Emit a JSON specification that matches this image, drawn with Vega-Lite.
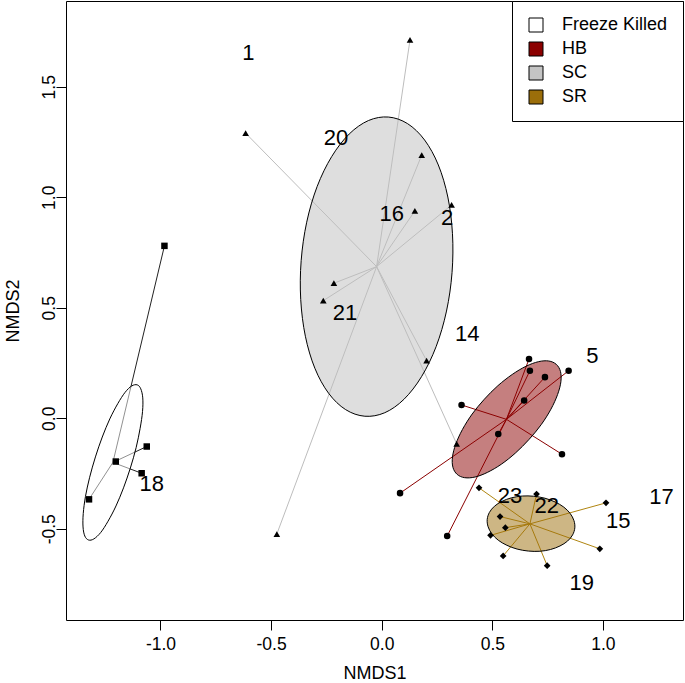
{
  "$schema": "https://vega.github.io/schema/vega-lite/v6.json",
  "width": 617,
  "height": 619,
  "autosize": {"type": "none"},
  "padding": {"left": 66, "top": 1, "right": 2, "bottom": 63},
  "background": "white",
  "config": {
    "view": {"stroke": "black", "strokeWidth": 1},
    "font": "Liberation Sans",
    "axis": {
      "labelFont": "Liberation Sans", "titleFont": "Liberation Sans",
      "labelFontSize": 17.5, "titleFontSize": 18, "titleFontWeight": "normal",
      "labelColor": "black", "titleColor": "black", "tickColor": "black",
      "domain": false, "grid": false, "labelFlush": false, "labelOverlap": false
    }
  },
  "datasets": {
    "pts": [
      {"g": "Freeze Killed", "x": -0.982, "y": 0.780},
      {"g": "Freeze Killed", "x": -1.062, "y": -0.128},
      {"g": "Freeze Killed", "x": -1.202, "y": -0.196},
      {"g": "Freeze Killed", "x": -1.085, "y": -0.249},
      {"g": "Freeze Killed", "x": -1.323, "y": -0.367},
      {"g": "SC", "x": -0.615, "y": 1.290},
      {"g": "SC", "x": -0.216, "y": 0.611},
      {"g": "SC", "x": -0.264, "y": 0.532},
      {"g": "SC", "x": 0.128, "y": 1.712},
      {"g": "SC", "x": 0.181, "y": 1.191},
      {"g": "SC", "x": 0.150, "y": 0.938},
      {"g": "SC", "x": 0.316, "y": 0.965},
      {"g": "SC", "x": -0.474, "y": -0.524},
      {"g": "SC", "x": 0.203, "y": 0.261},
      {"g": "SC", "x": 0.339, "y": -0.116},
      {"g": "HB", "x": 0.666, "y": 0.268},
      {"g": "HB", "x": 0.670, "y": 0.215},
      {"g": "HB", "x": 0.738, "y": 0.186},
      {"g": "HB", "x": 0.845, "y": 0.215},
      {"g": "HB", "x": 0.644, "y": 0.080},
      {"g": "HB", "x": 0.361, "y": 0.060},
      {"g": "HB", "x": 0.527, "y": -0.071},
      {"g": "HB", "x": 0.815, "y": -0.163},
      {"g": "HB", "x": 0.083, "y": -0.339},
      {"g": "HB", "x": 0.296, "y": -0.533},
      {"g": "SR", "x": 0.440, "y": -0.315},
      {"g": "SR", "x": 0.700, "y": -0.343},
      {"g": "SR", "x": 1.014, "y": -0.383},
      {"g": "SR", "x": 0.535, "y": -0.445},
      {"g": "SR", "x": 0.559, "y": -0.495},
      {"g": "SR", "x": 0.492, "y": -0.530},
      {"g": "SR", "x": 0.549, "y": -0.623},
      {"g": "SR", "x": 0.748, "y": -0.667},
      {"g": "SR", "x": 0.986, "y": -0.591}
    ],
    "ctr": [
      {"g": "Freeze Killed", "cx": -1.215, "cy": -0.200},
      {"g": "HB", "cx": 0.564, "cy": -0.005},
      {"g": "SC", "cx": -0.023, "cy": 0.686},
      {"g": "SR", "cx": 0.670, "cy": -0.478}
    ],
    "lab": [
      {"t": "1", "x": -0.603, "y": 1.659},
      {"t": "20", "x": -0.207, "y": 1.274},
      {"t": "16", "x": 0.045, "y": 0.928},
      {"t": "2", "x": 0.296, "y": 0.912},
      {"t": "21", "x": -0.166, "y": 0.482},
      {"t": "14", "x": 0.387, "y": 0.385},
      {"t": "5", "x": 0.952, "y": 0.286},
      {"t": "18", "x": -1.039, "y": -0.294},
      {"t": "23", "x": 0.580, "y": -0.347},
      {"t": "22", "x": 0.746, "y": -0.392},
      {"t": "15", "x": 1.069, "y": -0.460},
      {"t": "17", "x": 1.265, "y": -0.352},
      {"t": "19", "x": 0.904, "y": -0.739}
    ],
    "ell": [
      {"g": "Freeze Killed", "i": 0, "x": -1.105, "y": 0.151},
      {"g": "Freeze Killed", "i": 1, "x": -1.089, "y": 0.133},
      {"g": "Freeze Killed", "i": 2, "x": -1.080, "y": 0.092},
      {"g": "Freeze Killed", "i": 3, "x": -1.081, "y": 0.031},
      {"g": "Freeze Killed", "i": 4, "x": -1.092, "y": -0.046},
      {"g": "Freeze Killed", "i": 5, "x": -1.110, "y": -0.133},
      {"g": "Freeze Killed", "i": 6, "x": -1.136, "y": -0.225},
      {"g": "Freeze Killed", "i": 7, "x": -1.167, "y": -0.315},
      {"g": "Freeze Killed", "i": 8, "x": -1.201, "y": -0.397},
      {"g": "Freeze Killed", "i": 9, "x": -1.237, "y": -0.466},
      {"g": "Freeze Killed", "i": 10, "x": -1.270, "y": -0.517},
      {"g": "Freeze Killed", "i": 11, "x": -1.301, "y": -0.546},
      {"g": "Freeze Killed", "i": 12, "x": -1.325, "y": -0.551},
      {"g": "Freeze Killed", "i": 13, "x": -1.342, "y": -0.533},
      {"g": "Freeze Killed", "i": 14, "x": -1.350, "y": -0.492},
      {"g": "Freeze Killed", "i": 15, "x": -1.349, "y": -0.431},
      {"g": "Freeze Killed", "i": 16, "x": -1.339, "y": -0.354},
      {"g": "Freeze Killed", "i": 17, "x": -1.320, "y": -0.267},
      {"g": "Freeze Killed", "i": 18, "x": -1.294, "y": -0.175},
      {"g": "Freeze Killed", "i": 19, "x": -1.263, "y": -0.085},
      {"g": "Freeze Killed", "i": 20, "x": -1.229, "y": -0.003},
      {"g": "Freeze Killed", "i": 21, "x": -1.193, "y": 0.066},
      {"g": "Freeze Killed", "i": 22, "x": -1.160, "y": 0.117},
      {"g": "Freeze Killed", "i": 23, "x": -1.130, "y": 0.146},
      {"g": "SC", "i": 0, "x": 0.030, "y": 1.363},
      {"g": "SC", "i": 1, "x": 0.117, "y": 1.333},
      {"g": "SC", "i": 2, "x": 0.194, "y": 1.259},
      {"g": "SC", "i": 3, "x": 0.256, "y": 1.146},
      {"g": "SC", "i": 4, "x": 0.299, "y": 1.001},
      {"g": "SC", "i": 5, "x": 0.320, "y": 0.835},
      {"g": "SC", "i": 6, "x": 0.318, "y": 0.659},
      {"g": "SC", "i": 7, "x": 0.293, "y": 0.485},
      {"g": "SC", "i": 8, "x": 0.246, "y": 0.324},
      {"g": "SC", "i": 9, "x": 0.180, "y": 0.188},
      {"g": "SC", "i": 10, "x": 0.101, "y": 0.086},
      {"g": "SC", "i": 11, "x": 0.014, "y": 0.025},
      {"g": "SC", "i": 12, "x": -0.076, "y": 0.009},
      {"g": "SC", "i": 13, "x": -0.163, "y": 0.039},
      {"g": "SC", "i": 14, "x": -0.240, "y": 0.113},
      {"g": "SC", "i": 15, "x": -0.302, "y": 0.226},
      {"g": "SC", "i": 16, "x": -0.345, "y": 0.371},
      {"g": "SC", "i": 17, "x": -0.366, "y": 0.537},
      {"g": "SC", "i": 18, "x": -0.364, "y": 0.713},
      {"g": "SC", "i": 19, "x": -0.339, "y": 0.887},
      {"g": "SC", "i": 20, "x": -0.292, "y": 1.048},
      {"g": "SC", "i": 21, "x": -0.226, "y": 1.184},
      {"g": "SC", "i": 22, "x": -0.147, "y": 1.286},
      {"g": "SC", "i": 23, "x": -0.060, "y": 1.347},
      {"g": "HB", "i": 0, "x": 0.789, "y": 0.244},
      {"g": "HB", "i": 1, "x": 0.808, "y": 0.212},
      {"g": "HB", "i": 2, "x": 0.810, "y": 0.165},
      {"g": "HB", "i": 3, "x": 0.795, "y": 0.107},
      {"g": "HB", "i": 4, "x": 0.765, "y": 0.041},
      {"g": "HB", "i": 5, "x": 0.721, "y": -0.029},
      {"g": "HB", "i": 6, "x": 0.666, "y": -0.096},
      {"g": "HB", "i": 7, "x": 0.605, "y": -0.157},
      {"g": "HB", "i": 8, "x": 0.541, "y": -0.208},
      {"g": "HB", "i": 9, "x": 0.478, "y": -0.245},
      {"g": "HB", "i": 10, "x": 0.422, "y": -0.266},
      {"g": "HB", "i": 11, "x": 0.375, "y": -0.269},
      {"g": "HB", "i": 12, "x": 0.341, "y": -0.254},
      {"g": "HB", "i": 13, "x": 0.322, "y": -0.222},
      {"g": "HB", "i": 14, "x": 0.320, "y": -0.175},
      {"g": "HB", "i": 15, "x": 0.335, "y": -0.117},
      {"g": "HB", "i": 16, "x": 0.365, "y": -0.051},
      {"g": "HB", "i": 17, "x": 0.409, "y": 0.019},
      {"g": "HB", "i": 18, "x": 0.464, "y": 0.086},
      {"g": "HB", "i": 19, "x": 0.525, "y": 0.147},
      {"g": "HB", "i": 20, "x": 0.590, "y": 0.198},
      {"g": "HB", "i": 21, "x": 0.652, "y": 0.235},
      {"g": "HB", "i": 22, "x": 0.709, "y": 0.256},
      {"g": "HB", "i": 23, "x": 0.755, "y": 0.259},
      {"g": "SR", "i": 0, "x": 0.873, "y": -0.496},
      {"g": "SR", "i": 1, "x": 0.869, "y": -0.463},
      {"g": "SR", "i": 2, "x": 0.852, "y": -0.431},
      {"g": "SR", "i": 3, "x": 0.823, "y": -0.402},
      {"g": "SR", "i": 4, "x": 0.784, "y": -0.379},
      {"g": "SR", "i": 5, "x": 0.738, "y": -0.362},
      {"g": "SR", "i": 6, "x": 0.687, "y": -0.353},
      {"g": "SR", "i": 7, "x": 0.636, "y": -0.352},
      {"g": "SR", "i": 8, "x": 0.587, "y": -0.360},
      {"g": "SR", "i": 9, "x": 0.544, "y": -0.376},
      {"g": "SR", "i": 10, "x": 0.510, "y": -0.398},
      {"g": "SR", "i": 11, "x": 0.487, "y": -0.426},
      {"g": "SR", "i": 12, "x": 0.477, "y": -0.458},
      {"g": "SR", "i": 13, "x": 0.481, "y": -0.491},
      {"g": "SR", "i": 14, "x": 0.498, "y": -0.523},
      {"g": "SR", "i": 15, "x": 0.527, "y": -0.552},
      {"g": "SR", "i": 16, "x": 0.566, "y": -0.575},
      {"g": "SR", "i": 17, "x": 0.612, "y": -0.592},
      {"g": "SR", "i": 18, "x": 0.663, "y": -0.601},
      {"g": "SR", "i": 19, "x": 0.715, "y": -0.602},
      {"g": "SR", "i": 20, "x": 0.763, "y": -0.594},
      {"g": "SR", "i": 21, "x": 0.806, "y": -0.578},
      {"g": "SR", "i": 22, "x": 0.840, "y": -0.556},
      {"g": "SR", "i": 23, "x": 0.863, "y": -0.528}
    ]
  },
  "encoding": {
    "x": {
      "field": "x", "type": "quantitative",
      "scale": {"domain": [-1.427, 1.362], "nice": false, "zero": false},
      "axis": {
        "values": [-1, -0.5, 0, 0.5, 1],
        "labelExpr": "replace(format(datum.value, '.1f'), '\u2212', '-')",
        "title": "NMDS1", "tickSize": 10, "labelPadding": 5, "titlePadding": 12
      }
    },
    "y": {
      "field": "y", "type": "quantitative",
      "scale": {"domain": [-0.913, 1.888], "nice": false, "zero": false},
      "axis": {
        "values": [-0.5, 0, 0.5, 1, 1.5],
        "labelExpr": "replace(format(datum.value, '.1f'), '\u2212', '-')",
        "labelAngle": -90, "labelAlign": "center", "labelBaseline": "alphabetic",
        "title": "NMDS2", "tickSize": 10, "labelPadding": 2, "titlePadding": 18
      }
    }
  },
  "layer": [
    {
      "data": {"name": "pts"},
      "transform": [
        {"lookup": "g", "from": {"data": {"name": "ctr"}, "key": "g", "fields": ["cx", "cy"]}}
      ],
      "mark": {"type": "rule", "strokeWidth": 1},
      "encoding": {
        "x2": {"field": "cx"},
        "y2": {"field": "cy"},
        "stroke": {
          "field": "g", "type": "nominal",
          "scale": {"domain": ["Freeze Killed", "HB", "SC", "SR"], "range": ["#222222", "#8B0000", "#BDBDBD", "#B08510"]},
          "legend": null
        }
      }
    },
    {
      "data": {"name": "ell"},
      "mark": {"type": "line", "interpolate": "cardinal-closed", "stroke": "black", "strokeWidth": 1, "fillOpacity": 0.5},
      "encoding": {
        "order": {"field": "i", "type": "quantitative"},
        "detail": {"field": "g"},
        "fill": {
          "field": "g", "type": "nominal",
          "scale": {"domain": ["Freeze Killed", "HB", "SC", "SR"], "range": ["#FFFFFF", "#8B0000", "#BEBEBE", "#9B6E0A"]},
          "legend": null
        }
      }
    },
    {
      "data": {"name": "pts"},
      "mark": {"type": "point", "filled": true, "color": "black", "opacity": 1},
      "encoding": {
        "shape": {
          "field": "g", "type": "nominal",
          "scale": {"domain": ["Freeze Killed", "HB", "SC", "SR"], "range": ["square", "circle", "triangle-up", "diamond"]},
          "legend": null
        },
        "size": {
          "field": "g", "type": "ordinal",
          "scale": {"domain": ["Freeze Killed", "HB", "SC", "SR"], "range": [42, 45, 50, 22]},
          "legend": null
        }
      }
    },
    {
      "data": {"name": "lab"},
      "mark": {"type": "text", "fontSize": 22, "font": "Liberation Sans", "color": "black", "align": "center", "baseline": "middle", "dy": 1},
      "encoding": {
        "text": {"field": "t", "type": "nominal"}
      }
    },
    {
      "data": {"name": "pts"},
      "mark": {"type": "point", "shape": "square", "filled": true, "opacity": 0},
      "encoding": {
        "fill": {
          "field": "g", "type": "nominal",
          "scale": {"domain": ["Freeze Killed", "HB", "SC", "SR"], "range": ["#FFFFFF", "#8B0000", "#C4C4C4", "#9B6E0A"]},
          "legend": {
            "title": null, "orient": "top-right", "offset": 0,
            "symbolType": "square", "symbolSize": 196, "symbolStrokeColor": "black", "symbolStrokeWidth": 1, "symbolOpacity": 1,
            "labelFontSize": 18, "labelFont": "Liberation Sans", "labelColor": "black",
            "labelOffset": 17, "rowPadding": 6, "padding": 15,
            "strokeColor": "black", "fillColor": "white", "cornerRadius": 0
          }
        }
      }
    }
  ],
  "resolve": {"scale": {"fill": "independent"}, "legend": {"fill": "independent"}}
}
